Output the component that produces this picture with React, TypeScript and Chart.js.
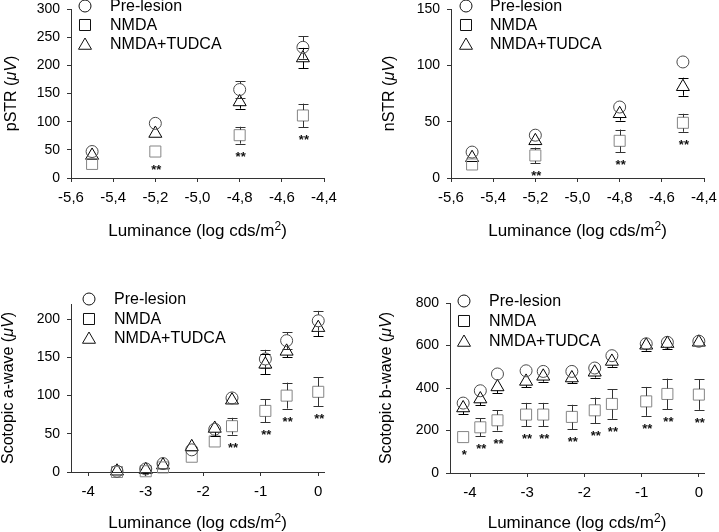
import React, { useEffect, useRef } from 'react';
import { Chart, registerables } from 'chart.js';

Chart.register(...registerables);

const FONT = '"Liberation Sans", Arial, sans-serif';
const SERIES_LABELS = ['Pre-lesion', 'NMDA', 'NMDA+TUDCA'];
const X_TITLE = 'Luminance (log cds/m';

// ---------- Panel 1: pSTR ----------
const pstrX = [-5.5, -5.2, -4.8, -4.5];
const pstrPre = [47, 97, 157, 232];
const pstrPreErr = [4, 7, 15, 20];
const pstrNmda = [25, 47, 76, 111];
const pstrNmdaErr = [8, 9, 15, 21];
const pstrTudca = [40, 79, 135, 213];
const pstrTudcaErr = [6, 8, 12, 18];
const pstrSig = ['', '**', '**', '**'];
const pstrXTicks = [-5.6, -5.4, -5.2, -5.0, -4.8, -4.6, -4.4];
const pstrYTicks = [0, 50, 100, 150, 200, 250, 300];

// ---------- Panel 2: nSTR ----------
const nstrX = [-5.5, -5.2, -4.8, -4.5];
const nstrPre = [23, 38, 63, 103];
const nstrPreErr = [2, 3, 4, 6];
const nstrNmda = [12, 20, 33, 49];
const nstrNmdaErr = [4, 7, 10, 8];
const nstrTudca = [18, 33, 57, 81];
const nstrTudcaErr = [3, 4, 6, 8];
const nstrSig = ['', '**', '**', '**'];
const nstrXTicks = [-5.6, -5.4, -5.2, -5.0, -4.8, -4.6, -4.4];
const nstrYTicks = [0, 50, 100, 150];

// ---------- Panel 3: Scotopic a-wave ----------
const awaveX = [-3.5, -3.0, -2.7, -2.2, -1.8, -1.5, -0.92, -0.55, 0];
const awavePre = [1, 4, 11, 29, 56, 97, 148, 172, 198];
const awavePreErr = [1, 2, 3, 5, 8, 6, 12, 11, 13];
const awaveNmda = [0, 1, 6, 20, 40, 60, 80, 100, 105];
const awaveNmdaErr = [1, 1, 2, 4, 5, 11, 15, 17, 19];
const awaveTudca = [1, 3, 9, 33, 57, 94, 141, 158, 189];
const awaveTudcaErr = [1, 2, 3, 5, 10, 6, 13, 8, 11];
const awaveSig = ['', '', '', '', '', '**', '**', '**', '**'];
const awaveXTicks = [-4, -3, -2, -1, 0];
const awaveYTicks = [0, 50, 100, 150, 200];

// ---------- Panel 4: Scotopic b-wave ----------
const bwaveX = [-4.12, -3.82, -3.52, -3.02, -2.72, -2.22, -1.82, -1.52, -0.92, -0.55, 0];
const bwavePre = [329, 387, 466, 481, 478, 478, 494, 552, 608, 615, 620];
const bwavePreErr = [25, 25, 25, 28, 25, 25, 25, 28, 25, 25, 20];
const bwaveNmda = [169, 215, 248, 275, 275, 264, 295, 325, 337, 372, 369];
const bwaveNmdaErr = [25, 42, 48, 55, 55, 57, 60, 70, 68, 72, 72];
const bwaveTudca = [306, 348, 405, 431, 455, 447, 474, 525, 601, 609, 615];
const bwaveTudcaErr = [30, 30, 30, 28, 25, 25, 25, 25, 25, 25, 20];
const bwaveSig = ['*', '**', '**', '**', '**', '**', '**', '**', '**', '**', '**'];
const bwaveXTicks = [-4, -3, -2, -1, 0];
const bwaveYTicks = [0, 200, 400, 600, 800];

type Series = { y: number[]; err: number[] };

type PanelCfg = {
  left: number; top: number; w: number; h: number;
  yw: number; padRight: number; padTop: number; xh: number;
  xmin: number; xmax: number; ymin: number; ymax: number;
  xTicks: number[]; yTicks: number[]; comma: boolean;
  x: number[]; series: Series[]; sig: string[];
  yTitle: string; yTitleX: number; xTitleY: number;
  legendMX: number; legendTX: number; legendY: number[];
};

const STYLES = [
  { shape: 'circle', color: '#4a4a4a', err: '#333333', r: 6, gapT: 6, gapB: 6 },
  { shape: 'rect', color: '#858585', err: '#333333', r: 7.8, gapT: 5.5, gapB: 5.5 },
  { shape: 'triangle', color: '#000000', err: '#000000', r: 7.5, gapT: 7.5, gapB: 3.75 },
];

function drawMarker(ctx: CanvasRenderingContext2D, shape: string, x: number, y: number, r: number, color: string) {
  ctx.save();
  ctx.strokeStyle = color;
  ctx.lineWidth = 1;
  ctx.beginPath();
  if (shape === 'circle') {
    ctx.arc(x, y, r, 0, Math.PI * 2);
  } else if (shape === 'rect') {
    const s = r * Math.SQRT1_2;
    ctx.rect(x - s, y - s, 2 * s, 2 * s);
  } else {
    ctx.moveTo(x, y - r);
    ctx.lineTo(x + r * Math.sin((2 * Math.PI) / 3), y - r * Math.cos((2 * Math.PI) / 3));
    ctx.lineTo(x + r * Math.sin((4 * Math.PI) / 3), y - r * Math.cos((4 * Math.PI) / 3));
    ctx.closePath();
  }
  ctx.stroke();
  ctx.restore();
}

function makeExtras(cfg: PanelCfg) {
  return {
    id: 'extras',
    afterDatasetsDraw(chart: any) {
      const ctx: CanvasRenderingContext2D = chart.ctx;
      const xs = chart.scales.x;
      const ys = chart.scales.y;
      cfg.series.forEach((s, si) => {
        const st = STYLES[si];
        ctx.save();
        ctx.strokeStyle = st.err;
        ctx.lineWidth = 1;
        s.y.forEach((v, i) => {
          const px = Math.round(xs.getPixelForValue(cfg.x[i])) + 0.5;
          const py = ys.getPixelForValue(v);
          const pt = ys.getPixelForValue(v + s.err[i]);
          const pb = ys.getPixelForValue(v - s.err[i]);
          ctx.beginPath();
          if (py - pt > st.gapT + 1) {
            ctx.moveTo(px, pt);
            ctx.lineTo(px, py - st.gapT);
            ctx.moveTo(px - 5, Math.round(pt) + 0.5);
            ctx.lineTo(px + 5, Math.round(pt) + 0.5);
          }
          if (pb - py > st.gapB + 1) {
            ctx.moveTo(px, pb);
            ctx.lineTo(px, py + st.gapB);
            ctx.moveTo(px - 5, Math.round(pb) + 0.5);
            ctx.lineTo(px + 5, Math.round(pb) + 0.5);
          }
          ctx.stroke();
        });
        ctx.restore();
      });
      // significance stars under NMDA
      const nm = cfg.series[1];
      ctx.save();
      ctx.fillStyle = '#111';
      ctx.font = `bold 13px ${FONT}`;
      ctx.textAlign = 'center';
      ctx.textBaseline = 'alphabetic';
      cfg.sig.forEach((t, i) => {
        if (!t) return;
        const px = xs.getPixelForValue(cfg.x[i]);
        const pb = ys.getPixelForValue(nm.y[i] - nm.err[i]);
        ctx.fillText(t, px + 1, pb + 9 + 8);
      });
      ctx.restore();
    },
    afterDraw(chart: any) {
      const ctx: CanvasRenderingContext2D = chart.ctx;
      const area = chart.chartArea;
      // legend
      ctx.save();
      SERIES_LABELS.forEach((lab, i) => {
        const st = STYLES[i];
        const y = cfg.legendY[i];
        drawMarker(ctx, st.shape, cfg.legendMX, st.shape === 'triangle' ? y + 1.5 : y, st.r, '#111');
        ctx.fillStyle = '#000';
        ctx.font = `16px ${FONT}`;
        ctx.textAlign = 'left';
        ctx.textBaseline = 'middle';
        ctx.fillText(lab, cfg.legendTX, y + 1);
      });
      ctx.restore();
      // x title
      ctx.save();
      ctx.fillStyle = '#000';
      ctx.textBaseline = 'alphabetic';
      ctx.textAlign = 'left';
      ctx.font = `17px ${FONT}`;
      const w1 = ctx.measureText(X_TITLE).width;
      const w3 = ctx.measureText(')').width;
      ctx.font = `12px ${FONT}`;
      const w2 = ctx.measureText('2').width;
      const cx = (area.left + area.right) / 2;
      let sx = cx - (w1 + w2 + w3) / 2;
      const by = cfg.xTitleY + 6;
      ctx.font = `17px ${FONT}`;
      ctx.fillText(X_TITLE, sx, by);
      sx += w1;
      ctx.font = `12px ${FONT}`;
      ctx.fillText('2', sx, by - 6);
      sx += w2;
      ctx.font = `17px ${FONT}`;
      ctx.fillText(')', sx, by);
      ctx.restore();
      // y title
      ctx.save();
      ctx.fillStyle = '#000';
      ctx.translate(cfg.yTitleX, (area.top + area.bottom) / 2);
      ctx.rotate(-Math.PI / 2);
      ctx.textBaseline = 'middle';
      ctx.textAlign = 'left';
      const p1 = cfg.yTitle + ' (';
      const p2 = '\u03bcV';
      const p3 = ')';
      ctx.font = `16px ${FONT}`;
      const a1 = ctx.measureText(p1).width;
      const a3 = ctx.measureText(p3).width;
      ctx.font = `italic 16px ${FONT}`;
      const a2 = ctx.measureText(p2).width;
      let tx = -(a1 + a2 + a3) / 2;
      ctx.font = `16px ${FONT}`;
      ctx.fillText(p1, tx, 0);
      tx += a1;
      ctx.font = `italic 16px ${FONT}`;
      ctx.fillText(p2, tx, 0);
      tx += a2;
      ctx.font = `16px ${FONT}`;
      ctx.fillText(p3, tx, 0);
      ctx.restore();
    },
  };
}

const PANELS: PanelCfg[] = [
  {
    left: 0, top: 0, w: 360, h: 266, yw: 71, padRight: 36, padTop: 9, xh: 88,
    xmin: -5.6, xmax: -4.4, ymin: 0, ymax: 300, xTicks: pstrXTicks, yTicks: pstrYTicks, comma: true,
    x: pstrX,
    series: [{ y: pstrPre, err: pstrPreErr }, { y: pstrNmda, err: pstrNmdaErr }, { y: pstrTudca, err: pstrTudcaErr }],
    sig: pstrSig, yTitle: 'pSTR', yTitleX: 12, xTitleY: 230,
    legendMX: 85, legendTX: 110, legendY: [6, 25, 44],
  },
  {
    left: 360, top: 0, w: 359, h: 266, yw: 91, padRight: 15, padTop: 9, xh: 88,
    xmin: -5.6, xmax: -4.4, ymin: 0, ymax: 150, xTicks: nstrXTicks, yTicks: nstrYTicks, comma: true,
    x: nstrX,
    series: [{ y: nstrPre, err: nstrPreErr }, { y: nstrNmda, err: nstrNmdaErr }, { y: nstrTudca, err: nstrTudcaErr }],
    sig: nstrSig, yTitle: 'nSTR', yTitleX: 30, xTitleY: 230,
    legendMX: 106, legendTX: 130, legendY: [6, 25, 44],
  },
  {
    left: 0, top: 266, w: 360, h: 266, yw: 71, padRight: 36, padTop: 38, xh: 60,
    xmin: -4.3, xmax: 0.1, ymin: 0, ymax: 220, xTicks: awaveXTicks, yTicks: awaveYTicks, comma: false,
    x: awaveX,
    series: [{ y: awavePre, err: awavePreErr }, { y: awaveNmda, err: awaveNmdaErr }, { y: awaveTudca, err: awaveTudcaErr }],
    sig: awaveSig, yTitle: 'Scotopic a-wave', yTitleX: 9, xTitleY: 256,
    legendMX: 89, legendTX: 114, legendY: [33, 53, 72],
  },
  {
    left: 360, top: 266, w: 359, h: 266, yw: 90, padRight: 15, padTop: 37, xh: 59,
    xmin: -4.35, xmax: 0.09, ymin: 0, ymax: 800, xTicks: bwaveXTicks, yTicks: bwaveYTicks, comma: false,
    x: bwaveX,
    series: [{ y: bwavePre, err: bwavePreErr }, { y: bwaveNmda, err: bwaveNmdaErr }, { y: bwaveTudca, err: bwaveTudcaErr }],
    sig: bwaveSig, yTitle: 'Scotopic b-wave', yTitleX: 27, xTitleY: 256,
    legendMX: 104, legendTX: 129, legendY: [35, 55, 75],
  },
];

function Panel({ cfg }: { cfg: PanelCfg }) {
  const ref = useRef<HTMLCanvasElement | null>(null);
  useEffect(() => {
    if (!ref.current) return;
    const fmt = (v: number) => {
      if (cfg.comma) return v.toFixed(1).replace('.', ',');
      const r = Math.round(v);
      return r === 0 ? '0' : String(r);
    };
    const chart = new Chart(ref.current, {
      type: 'scatter',
      data: {
        datasets: cfg.series.map((s, si) => ({
          label: SERIES_LABELS[si],
          data: cfg.x.map((xx, i) => ({ x: xx, y: s.y[i] })),
          pointStyle: STYLES[si].shape as any,
          pointRadius: STYLES[si].r,
          pointHoverRadius: STYLES[si].r,
          borderColor: STYLES[si].color,
          backgroundColor: 'rgba(0,0,0,0)',
          pointBorderWidth: 1,
          borderWidth: 1,
          showLine: false,
          clip: false as any,
        })),
      },
      options: {
        animation: false,
        responsive: false,
        maintainAspectRatio: false,
        devicePixelRatio: 1,
        events: [],
        layout: { padding: { left: 0, right: cfg.padRight, top: cfg.padTop, bottom: 0 } },
        plugins: { legend: { display: false }, tooltip: { enabled: false } },
        scales: {
          x: {
            type: 'linear',
            min: cfg.xmin,
            max: cfg.xmax,
            afterBuildTicks: (s: any) => { s.ticks = cfg.xTicks.map((v) => ({ value: v })); },
            afterFit: (s: any) => { s.height = cfg.xh; s.paddingLeft = 0; s.paddingRight = 0; },
            grid: { display: true, drawOnChartArea: false, drawTicks: true, tickLength: 4, color: '#333' },
            border: { display: true, color: '#333', width: 1 },
            ticks: {
              color: '#000', font: { family: FONT, size: 15 }, padding: 7,
              maxRotation: 0, autoSkip: false,
              callback: (v: any) => fmt(Number(v)),
            },
          },
          y: {
            type: 'linear',
            min: cfg.ymin,
            max: cfg.ymax,
            afterBuildTicks: (s: any) => { s.ticks = cfg.yTicks.map((v) => ({ value: v })); },
            afterFit: (s: any) => { s.width = cfg.yw; s.paddingTop = 0; s.paddingBottom = 0; },
            grid: { display: true, drawOnChartArea: false, drawTicks: true, tickLength: 4, color: '#333' },
            border: { display: true, color: '#333', width: 1 },
            ticks: {
              color: '#000', font: { family: FONT, size: 14 }, padding: 7,
              autoSkip: false,
              callback: (v: any) => String(Math.round(Number(v))),
            },
          },
        },
      } as any,
      plugins: [makeExtras(cfg) as any],
    });
    return () => chart.destroy();
  }, [cfg]);
  return (
    <canvas
      ref={ref}
      width={cfg.w}
      height={cfg.h}
      style={{ position: 'absolute', left: cfg.left, top: cfg.top, width: cfg.w, height: cfg.h }}
    />
  );
}

export default function App() {
  return (
    <div style={{ position: 'absolute', left: 0, top: 0, width: 719, height: 532, background: '#fff', overflow: 'hidden' }}>
      {PANELS.map((p, i) => (
        <Panel key={i} cfg={p} />
      ))}
    </div>
  );
}
